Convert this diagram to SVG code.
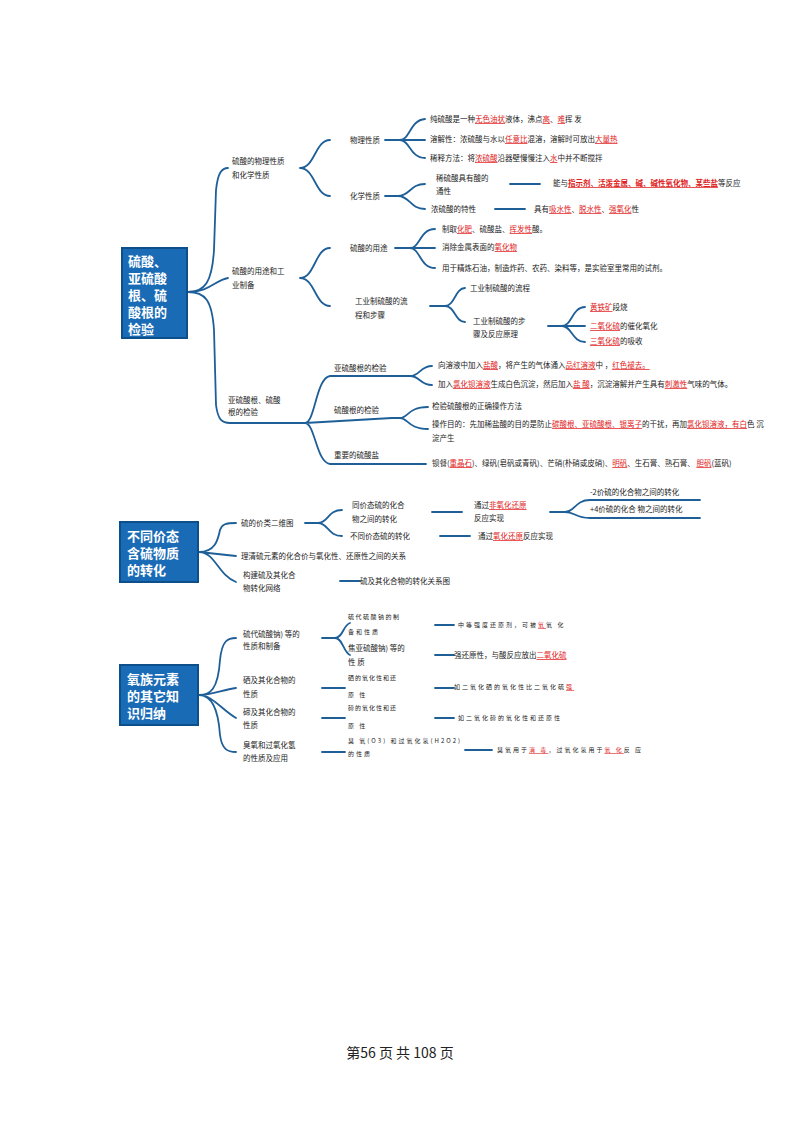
<svg xmlns="http://www.w3.org/2000/svg" width="800" height="1131" viewBox="0 0 800 1131">
<style>
text{font-family:"Noto Sans CJK SC","Noto Sans",sans-serif;font-size:7.5px;fill:#222}
.r{fill:#e02020;text-decoration:underline}
.box{fill:#1a6bb5;stroke:#0d4f8a;stroke-width:2}
.bt{font-size:13px;font-weight:bold;fill:#fff}
.c{fill:none;stroke:#1f5f98;stroke-width:1.8;stroke-linecap:round}
.s{font-size:6px}
</style>
<rect width="800" height="1131" fill="#fff"/>
<g id="connectors">
<path class="c" d="M188 292 C205 292 212 282 214 250 L216 190 C218 172 222 168 228 168"/>
<path class="c" d="M188 292 C210 292 215 280 228 278"/>
<path class="c" d="M188 292 C205 292 212 300 214 330 L216 405 C218 420 222 423 230 423"/>
<path class="c" d="M300 168 C315 168 315 140 330 140 M300 168 C315 168 315 196 330 196"/>
<path class="c" d="M300 278 C315 278 315 248 330 248 M300 278 C315 278 315 306 330 306"/>
<path class="c" d="M385 140 L400 140 C410 140 410 120 425 119 M400 140 L425 140 M400 140 C410 140 410 158 425 158"/>
<path class="c" d="M385 196 L398 196 C410 196 410 184 425 184 M398 196 C410 196 410 209 425 209"/>
<path class="c" d="M510 184 L540 184 M495 209 L525 209"/>
<path class="c" d="M395 248 L410 248 C420 248 420 229 435 229 M410 248 L435 248 M410 248 C420 248 420 268 435 268"/>
<path class="c" d="M430 306 L445 306 C455 306 455 288 465 288 M445 306 C455 306 455 322 465 322"/>
<path class="c" d="M548 326 L562 326 C572 326 572 307 585 307 M562 326 L585 326 M562 326 C572 326 572 342 585 342"/>
<path class="c" d="M230 423 L305 423 C315 423 316 378 330 376 L392 376 M305 423 L392 418 M305 423 C315 423 316 462 330 464 L380 464"/>
<path class="c" d="M392 376 L410 376 C420 376 420 366 432 366 M410 376 C420 376 420 385 432 385"/>
<path class="c" d="M392 418 L400 418 C408 418 408 407 428 407 M400 418 C408 418 408 429 428 429"/>
<path class="c" d="M380 464 L426 464"/>
<path class="c" d="M199 552 C215 552 218 540 220 530 C222 524 226 523 236 523 M199 552 L236 556 M199 552 C215 552 218 575 236 582"/>
<path class="c" d="M305 523 L318 523 C328 523 328 510 342 510 M318 523 C328 523 328 536 342 536"/>
<path class="c" d="M432 512 L462 512 M440 536 L470 536 M340 581 L360 581"/>
<path class="c" d="M550 512 L565 512 C575 512 575 500 590 500 L700 500 M565 512 C575 512 575 518 590 518 L700 518"/>
<path class="c" d="M199 695 C210 695 218 690 220 660 C222 640 228 638 236 638 M199 695 C212 695 222 690 236 688 M199 695 C212 695 222 710 236 718 M199 695 C210 695 218 705 220 735 C222 750 228 752 236 752"/>
<path class="c" d="M322 638 L335 638 C343 638 343 625 350 623 M335 638 C343 638 343 652 350 655"/>
<path class="c" d="M322 688 L345 688 M322 718 L345 718 M322 752 L345 752"/>
<path class="c" d="M435 625 L454 625 M435 655 L454 655 M435 688 L454 688 M435 718 L454 718 M465 750 L492 750"/>
</g>
<g id="n1"><rect class="box" x="122" y="248" width="65" height="90"/>
<text class="bt" x="128" y="266">硫酸、</text><text class="bt" x="128" y="283">亚硫酸</text><text class="bt" x="128" y="300">根、硫</text><text class="bt" x="128" y="317">酸根的</text><text class="bt" x="128" y="334">检验</text></g>
<g id="n2"><rect class="box" x="120" y="522" width="78" height="60"/>
<text class="bt" x="127" y="541">不同价态</text><text class="bt" x="127" y="558">含硫物质</text><text class="bt" x="127" y="575">的转化</text></g>
<g id="n3"><rect class="box" x="120" y="665" width="78" height="60"/>
<text class="bt" x="127" y="684">氧族元素</text><text class="bt" x="127" y="701">的其它知</text><text class="bt" x="127" y="718">识归纳</text></g>
<g id="s1">
<text x="232" y="164">硫酸的物理性质</text><text x="232" y="178">和化学性质</text>
<text x="232" y="274">硫酸的用途和工</text><text x="232" y="288">业制备</text>
<text x="228" y="403">亚硫酸根、硫酸</text><text x="228" y="415">根的检验</text>
<text x="350" y="143">物理性质</text><text x="350" y="199">化学性质</text><text x="350" y="251">硫酸的用途</text>
<text x="355" y="304">工业制硫酸的流</text><text x="355" y="318">程和步骤</text>
<text x="430" y="122">纯硫酸是一种<tspan class="r">无色油状</tspan>液体，沸点<tspan class="r">高</tspan>、<tspan class="r">难</tspan>挥 发</text>
<text x="430" y="142">溶解性：浓硫酸与水以<tspan class="r">任意比</tspan>混溶，溶解时可放出<tspan class="r">大量热</tspan></text>
<text x="430" y="161">稀释方法：将<tspan class="r">浓硫酸</tspan>沿器壁慢慢注入<tspan class="r">水</tspan>中并不断搅拌</text>
<text x="436" y="181">稀硫酸具有酸的</text><text x="436" y="194">通性</text>
<text x="553" y="186">能与<tspan class="r" font-weight="bold">指示剂、活泼金属、碱、碱性氧化物、某些盐</tspan>等反应</text>
<text x="431" y="212">浓硫酸的特性</text>
<text x="534" y="212">具有<tspan class="r">吸水性</tspan>、<tspan class="r">脱水性</tspan>、<tspan class="r">强氧化</tspan>性</text>
<text x="442" y="232">制取<tspan class="r">化肥</tspan>、硫酸盐、<tspan class="r">挥发性</tspan>酸。</text>
<text x="442" y="250">消除金属表面的<tspan class="r">氧化物</tspan></text>
<text x="442" y="271">用于精炼石油，制造炸药、农药、染料等，是实验室里常用的试剂。</text>
<text x="470" y="291">工业制硫酸的流程</text>
<text x="473" y="324">工业制硫酸的步</text><text x="473" y="337">骤及反应原理</text>
<text x="590" y="310"><tspan class="r">黄铁矿</tspan>段烧</text>
<text x="590" y="329"><tspan class="r">二氧化硫</tspan>的催化氧化</text>
<text x="590" y="344"><tspan class="r">三氧化硫</tspan>的吸收</text>
<text x="334" y="371">亚硫酸根的检验</text><text x="334" y="413">硫酸根的检验</text><text x="334" y="458">重要的硫酸盐</text>
<text x="438" y="368">向溶液中加入<tspan class="r">盐酸</tspan>，将产生的气体通入<tspan class="r">品红溶液</tspan>中 ，<tspan class="r">红色褪去。</tspan></text>
<text x="438" y="387">加入<tspan class="r">氯化钡溶液</tspan>生成白色沉淀，然后加入<tspan class="r">盐 酸</tspan>，沉淀溶解并产生具有<tspan class="r">刺激性</tspan>气味的气体。</text>
<text x="432" y="409">检验硫酸根的正确操作方法</text>
<text x="432" y="427">操作目的：先加稀盐酸的目的是防止<tspan class="r">碳酸根、亚硫酸根、银离子</tspan>的干扰，再加<tspan class="r">氯化钡溶液，有白</tspan>色 沉</text>
<text x="432" y="441">淀产生</text>
<text x="432" y="466">钡餐(<tspan class="r">重晶石</tspan>)、绿矾(皂矾或青矾)、芒硝(朴硝或皮硝)、<tspan class="r">明矾</tspan>、生石膏、熟石膏、 <tspan class="r">胆矾</tspan>(蓝矾)</text>
</g>
<g id="s2">
<text x="241" y="526">硫的价类二维图</text>
<text x="352" y="508">同价态硫的化合</text><text x="352" y="522">物之间的转化</text>
<text x="474" y="508">通过<tspan class="r">非氧化还原</tspan></text><text x="474" y="521">反应实现</text>
<text x="590" y="495">-2价硫的化合物之间的转化</text>
<text x="590" y="512">+4价硫的化合 物之间的转化</text>
<text x="350" y="539">不同价态硫的转化</text>
<text x="478" y="539">通过<tspan class="r">氧化还原</tspan>反应实现</text>
<text x="241" y="559">理清硫元素的化合价与氧化性、还原性之间的关系</text>
<text x="243" y="578">构建硫及其化合</text><text x="243" y="591">物转化网络</text>
<text x="360" y="584">硫及其化合物的转化关系图</text>
</g>
<g id="s3">
<text x="243" y="637">硫代硫酸钠) 等的</text><text x="243" y="649">性质和制备</text>
<text class="s" x="348" y="619" letter-spacing="1.5">硫代硫酸钠的制</text><text class="s" x="348" y="634" letter-spacing="2">备和性质</text>
<text class="s" x="458" y="627" letter-spacing="2">中等强度还原剂，可被<tspan class="r">氧</tspan>氧 化</text>
<text x="348" y="651">焦亚硫酸钠) 等的</text><text x="348" y="665">性 质</text>
<text x="454" y="658">强还原性，与酸反应放出<tspan class="r">二氧化硫</tspan></text>
<text x="243" y="683">硒及其化合物的</text><text x="243" y="697">性质</text>
<text class="s" x="348" y="680" letter-spacing="1">硒的氧化性和还</text><text class="s" x="348" y="697" letter-spacing="2">原 性</text>
<text class="s" x="454" y="689" letter-spacing="2">如二氧化硒的氧化性比二氧化硫<tspan class="r">强</tspan></text>
<text x="243" y="715">碲及其化合物的</text><text x="243" y="728">性质</text>
<text class="s" x="348" y="710" letter-spacing="1">碲的氧化性和还</text><text class="s" x="348" y="728" letter-spacing="2">原 性</text>
<text class="s" x="458" y="720" letter-spacing="2">如二氧化碲的氧化性和还原性</text>
<text x="243" y="748">臭氧和过氧化氢</text><text x="243" y="761">的性质及应用</text>
<text class="s" x="348" y="743" letter-spacing="2">臭 氧(O3) 和过氧化氢(H2O2)</text><text class="s" x="348" y="756" letter-spacing="2">的性质</text>
<text class="s" x="497" y="752" letter-spacing="2">臭氧用于<tspan class="r">消 毒</tspan>，过氧化氢用于<tspan class="r">氧 化</tspan>反 应</text>
</g>
<text x="400" y="1058" text-anchor="middle" style="font-family:'Noto Sans CJK SC',serif;font-size:14px">第56 页 共 108 页</text>
</svg>
